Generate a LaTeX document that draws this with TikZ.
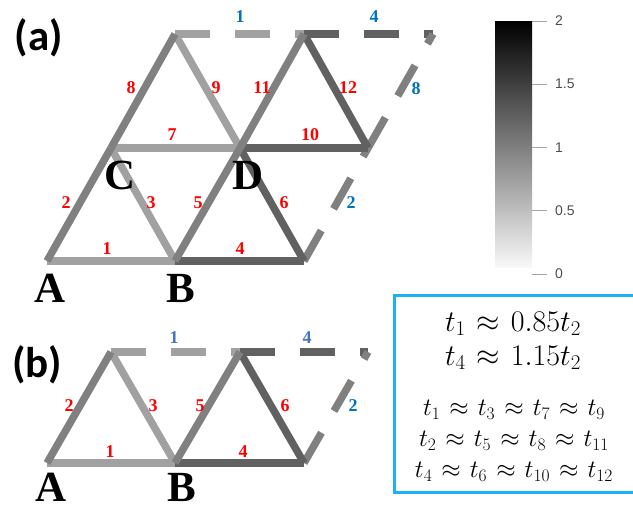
\RequirePackage{fix-cm}
\documentclass[tikz,border=0pt]{standalone}
\usepackage[no-math]{fontspec}
\setmainfont{Liberation Serif}
\newfontfamily\calib{Carlito}
\newfontfamily\arial{Liberation Sans}
\definecolor{lblue}{HTML}{0070C0}
\definecolor{mblue}{HTML}{4472C4}
\definecolor{boxblue}{HTML}{1AB2F0}
\definecolor{tickgray}{HTML}{4D4D4D}
\newcommand{\apx}{\mathrel{\mkern1.5mu\approx\mkern1.5mu}}
\begin{document}
\begin{tikzpicture}[x=1pt,y=-1pt,
  bond/.style={line width=7.5pt},
  lt/.style={bond,draw=black!37},
  md/.style={bond,draw=black!50},
  dk/.style={bond,draw=black!62},
  pbc/.style={dash pattern=on 35pt off 25pt},
  lab/.style={text=red,font=\bfseries\fontsize{18}{18}\selectfont,inner sep=0pt},
  blab/.style={text=lblue,font=\bfseries\fontsize{18}{18}\selectfont,inner sep=0pt},
  mlab/.style={text=mblue,font=\bfseries\fontsize{18}{18}\selectfont,inner sep=0pt},
  site/.style={font=\bfseries\fontsize{43}{43}\selectfont,inner sep=0pt},
  panel/.style={font=\calib\bfseries\fontsize{43}{43}\selectfont,inner sep=0pt},
  tick/.style={draw=black!35,line width=1pt},
  ticklab/.style={anchor=west,text=tickgray,font=\arial\fontsize{14}{14}\selectfont,inner sep=0pt},
  eq/.style={inner sep=0pt}]
\useasboundingbox (0,0) rectangle (633,506);
% ---------- panel (a) ----------
\coordinate (A) at (47,261);
\coordinate (B) at (175,261);
\coordinate (E) at (304,261);
\coordinate (C) at (111,148);
\coordinate (D) at (240,148);
\coordinate (F) at (368,148);
\coordinate (T1) at (175,34);
\coordinate (T2) at (304,34);
\coordinate (T3) at (433,34);
\draw[lt,pbc] (T1) -- (T2);
\draw[dk,pbc] (T2) -- (T3);
\draw[md,pbc] (E) -- (F);
\draw[md,pbc] (F) -- (T3);
\draw[lt] (A) -- (B);
\draw[lt] (C) -- (B);
\draw[lt] (C) -- (D);
\draw[lt] (T1) -- (D);
\draw[dk] (B) -- (E);
\draw[dk] (D) -- (E);
\draw[dk] (D) -- (F);
\draw[dk] (T2) -- (F);
\draw[md] (A) -- (C);
\draw[md] (C) -- (T1);
\draw[md] (B) -- (D);
\draw[md] (D) -- (T2);
\node[lab] (a1) at (107,249) {1};
\node[lab] (a2) at (66,203) {2};
\node[lab] (a3) at (151,203) {3};
\node[lab] (a4) at (240,249) {4};
\node[lab] (a5) at (198,203) {5};
\node[lab] (a6) at (284,203) {6};
\node[lab] (a7) at (172,135) {7};
\node[lab] (a8) at (131,88) {8};
\node[lab] (a9) at (216,88) {9};
\node[lab] (a10) at (310,135) {10};
\node[lab] (a11) at (262,88) {11};
\node[lab] (a12) at (348,88) {12};
\node[blab] (ab1) at (240,17) {1};
\node[blab] (ab4) at (374,17) {4};
\node[blab] (ab8) at (416,89) {8};
\node[blab] (ab2) at (351,203) {2};
\node[site] (sA) at (50,288) {A};
\node[site] (sB) at (181,288) {B};
\node[site] (sC) at (120,175) {C};
\node[site] (sD) at (248,175) {D};
\node[panel] (pa) at (39,38) {(a)};
% ---------- panel (b) ----------
\coordinate (bA) at (47,463);
\coordinate (bB) at (175,463);
\coordinate (bE) at (304,463);
\coordinate (P1) at (111,352);
\coordinate (P2) at (240,352);
\coordinate (P3) at (368,352);
\draw[lt,pbc] (P1) -- (P2);
\draw[dk,pbc] (P2) -- (P3);
\draw[md,pbc] (bE) -- (P3);
\draw[lt] (bA) -- (bB);
\draw[lt] (P1) -- (bB);
\draw[dk] (bB) -- (bE);
\draw[dk] (P2) -- (bE);
\draw[md] (bA) -- (P1);
\draw[md] (bB) -- (P2);
\node[lab] (b1) at (110,452) {1};
\node[lab] (b2) at (69,406) {2};
\node[lab] (b3) at (153,406) {3};
\node[lab] (b4) at (243,452) {4};
\node[lab] (b5) at (200,406) {5};
\node[lab] (b6) at (285,406) {6};
\node[mlab] (bb1) at (174,338) {1};
\node[mlab] (bb4) at (307,338) {4};
\node[blab] (bb2) at (353,406) {2};
\node[site] (tA) at (51,487) {A};
\node[site] (tB) at (182,487) {B};
\node[panel] (pb) at (37,365) {(b)};
% ---------- colour bar ----------
\shade[top color=black, bottom color=white] (495,21) rectangle (532,274);
\fill[white] (495,268) rectangle (533,275);
\foreach \yy/\tl in {21/2, 84.25/1.5, 147.5/1, 210.75/0.5, 274/0} {
  \draw[tick] (532,\yy) -- (547,\yy);
  \node[ticklab] at (555,\yy) {\tl};
}
% ---------- box ----------
\draw[boxblue,line width=3pt] (394,295) rectangle (645,492);
\node[eq,font=\fontsize{30}{30}\selectfont] (e1) at (513,324) {$t_1\apx 0.85t_2$};
\node[eq,font=\fontsize{30}{30}\selectfont] (e2) at (513,358) {$t_4\apx 1.15t_2$};
\node[eq,font=\fontsize{25}{25}\selectfont] (e3) at (514,410) {$t_1\apx t_3\apx t_7\apx t_9$};
\node[eq,font=\fontsize{25}{25}\selectfont] (e4) at (514,441) {$t_2\apx t_5\apx t_8\apx t_{11}$};
\node[eq,font=\fontsize{25}{25}\selectfont] (e5) at (514,472) {$t_4\apx t_6\apx t_{10}\apx t_{12}$};
\end{tikzpicture}
\end{document}
